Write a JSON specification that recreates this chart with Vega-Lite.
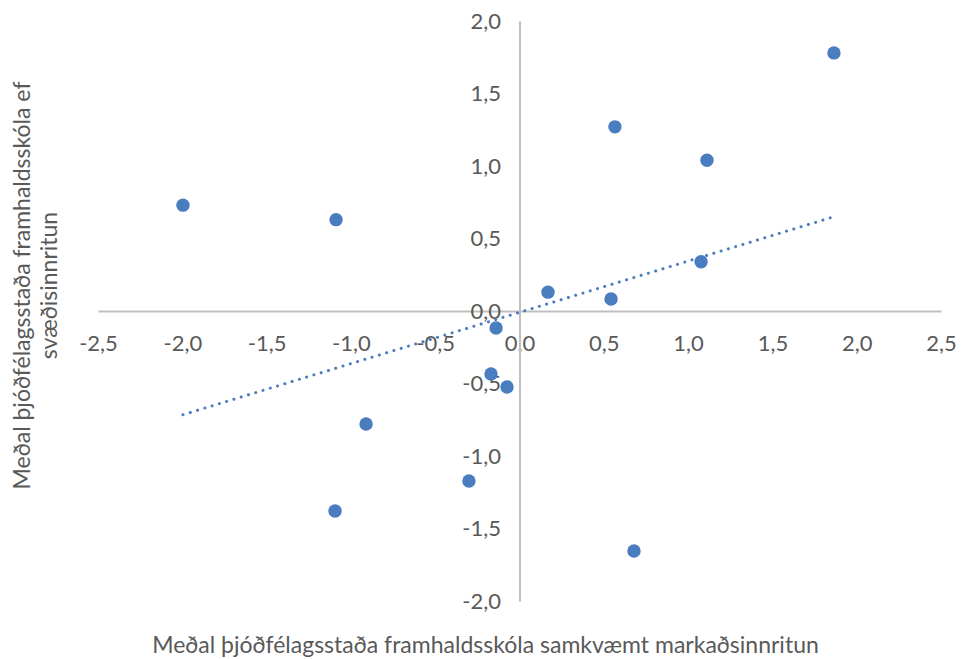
{
  "$schema": "https://vega.github.io/schema/vega-lite/v6.json",
  "width": 843,
  "height": 580,
  "autosize": {"type": "none"},
  "padding": {"left": 98, "top": 21, "right": 28, "bottom": 58},
  "background": "white",
  "config": {
    "view": {"stroke": null},
    "font": "Lato",
    "locale": {"number": {"decimal": ",", "thousands": ".", "grouping": [3], "currency": ["", " kr."], "minus": "-"}},
    "axis": {
      "grid": false,
      "ticks": false,
      "tickSize": 0,
      "domainColor": "#bfbfbf",
      "domainWidth": 2,
      "labelColor": "#595959",
      "labelFont": "Lato",
      "labelFontSize": 22,
      "titleColor": "#595959",
      "titleFont": "Lato",
      "titleFontSize": 23,
      "titleFontWeight": "normal",
      "format": ".1f",
      "labelOverlap": false,
      "labelBound": false,
      "labelFlush": false
    }
  },
  "data": {
    "values": [
      {"a": 1.865, "b": 1.78},
      {"a": 0.566, "b": 1.27},
      {"a": 1.112, "b": 1.04},
      {"a": -1.996, "b": 0.73},
      {"a": -1.088, "b": 0.63},
      {"a": 1.077, "b": 0.34},
      {"a": 0.169, "b": 0.13},
      {"a": 0.543, "b": 0.083},
      {"a": -0.139, "b": -0.117},
      {"a": -0.169, "b": -0.434},
      {"a": -0.074, "b": -0.524},
      {"a": -0.91, "b": -0.779},
      {"a": -0.3, "b": -1.172},
      {"a": -1.094, "b": -1.379},
      {"a": 0.679, "b": -1.655}
    ]
  },
  "encoding": {
    "x": {
      "field": "a",
      "type": "quantitative",
      "scale": {"domain": [-2.5, 2.5], "nice": false, "zero": false},
      "axis": {
        "orient": "bottom",
        "offset": -290,
        "values": [-2.5, -2, -1.5, -1, -0.5, 0, 0.5, 1, 1.5, 2, 2.5],
        "labelBaseline": "middle",
        "labelPadding": 32,
        "title": "Meðal þjóðfélagsstaða framhaldsskóla samkvæmt markaðsinnritun",
        "titleX": 387,
        "titleY": 334,
        "titleBaseline": "middle",
        "titleAlign": "center"
      }
    },
    "y": {
      "field": "b",
      "type": "quantitative",
      "scale": {"domain": [-2, 2], "nice": false, "zero": false},
      "axis": {
        "orient": "left",
        "offset": -421.5,
        "values": [-2, -1.5, -1, -0.5, 0, 0.5, 1, 1.5, 2],
        "labelPadding": 19,
        "labelBaseline": "middle",
        "title": ["Meðal þjóðfélagsstaða framhaldsskóla ef", "svæðisinnritun"],
        "titleX": -497,
        "titleY": 264,
        "titleAngle": -90,
        "titleLineHeight": 27,
        "titleBaseline": "middle",
        "titleAlign": "center"
      }
    }
  },
  "layer": [
    {
      "transform": [{"regression": "b", "on": "a"}],
      "mark": {"type": "line", "color": "#4a7dbf", "strokeWidth": 3, "strokeCap": "round", "strokeDash": [0.1, 7.5]}
    },
    {
      "mark": {"type": "circle", "color": "#4a7dbf", "opacity": 1, "size": 180}
    }
  ]
}
